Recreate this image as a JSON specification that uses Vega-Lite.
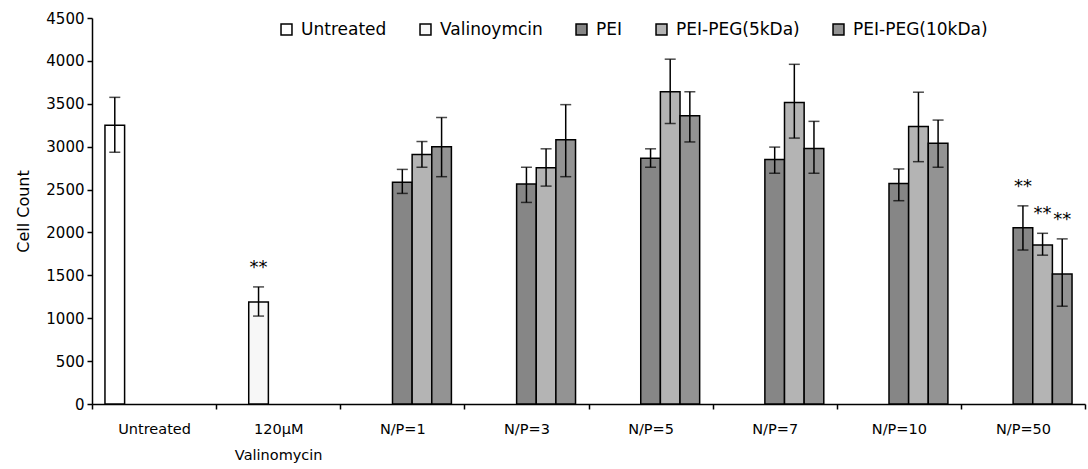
{
  "$schema": "https://vega.github.io/schema/vega-lite/v6.json",
  "autosize": "none",
  "width": 993,
  "height": 386,
  "padding": {"left": 92, "top": 18, "right": 3, "bottom": 65},
  "background": "white",
  "config": {
    "view": {"stroke": null},
    "font": "DejaVu Sans",
    "axis": {"labelFont": "DejaVu Sans", "titleFont": "DejaVu Sans", "labelColor": "#000", "titleColor": "#000", "domainColor": "#000", "tickColor": "#000", "domainWidth": 1.5, "tickWidth": 1.5, "grid": false},
    "legend": {"labelFont": "DejaVu Sans", "labelColor": "#000"}
  },
  "data": {
    "values": [
      {"group": "Untreated", "series": "Untreated", "mean": 3250, "lo": 2935, "hi": 3575},
      {"group": "120µM Valinomycin", "series": "Valinoymcin", "mean": 1190, "lo": 1025, "hi": 1365, "sig": "**"},
      {"group": "N/P=1", "series": "PEI", "mean": 2585, "lo": 2455, "hi": 2735},
      {"group": "N/P=1", "series": "PEI-PEG(5kDa)", "mean": 2910, "lo": 2760, "hi": 3060},
      {"group": "N/P=1", "series": "PEI-PEG(10kDa)", "mean": 3000, "lo": 2650, "hi": 3340},
      {"group": "N/P=3", "series": "PEI", "mean": 2565, "lo": 2350, "hi": 2760},
      {"group": "N/P=3", "series": "PEI-PEG(5kDa)", "mean": 2755, "lo": 2540, "hi": 2975},
      {"group": "N/P=3", "series": "PEI-PEG(10kDa)", "mean": 3080, "lo": 2650, "hi": 3490},
      {"group": "N/P=5", "series": "PEI", "mean": 2865, "lo": 2760, "hi": 2975},
      {"group": "N/P=5", "series": "PEI-PEG(5kDa)", "mean": 3640, "lo": 3270, "hi": 4020},
      {"group": "N/P=5", "series": "PEI-PEG(10kDa)", "mean": 3360, "lo": 3055, "hi": 3640},
      {"group": "N/P=7", "series": "PEI", "mean": 2850, "lo": 2690, "hi": 2995},
      {"group": "N/P=7", "series": "PEI-PEG(5kDa)", "mean": 3515, "lo": 3100, "hi": 3960},
      {"group": "N/P=7", "series": "PEI-PEG(10kDa)", "mean": 2980, "lo": 2690, "hi": 3295},
      {"group": "N/P=10", "series": "PEI", "mean": 2570, "lo": 2370, "hi": 2740},
      {"group": "N/P=10", "series": "PEI-PEG(5kDa)", "mean": 3235, "lo": 2825, "hi": 3635},
      {"group": "N/P=10", "series": "PEI-PEG(10kDa)", "mean": 3040, "lo": 2760, "hi": 3310},
      {"group": "N/P=50", "series": "PEI", "mean": 2055, "lo": 1795, "hi": 2310, "sig": "**"},
      {"group": "N/P=50", "series": "PEI-PEG(5kDa)", "mean": 1855, "lo": 1735, "hi": 1990, "sig": "**"},
      {"group": "N/P=50", "series": "PEI-PEG(10kDa)", "mean": 1515, "lo": 1140, "hi": 1925, "sig": "**"}
    ]
  },
  "encoding": {
    "x": {
      "field": "group",
      "type": "nominal",
      "sort": null,
      "scale": {"paddingInner": 0, "paddingOuter": 0},
      "axis": {
        "title": null,
        "labelAngle": 0,
        "labelFontSize": 14.5,
        "labelExpr": "split(datum.label, ' ')",
        "labelLineHeight": 26,
        "labelPadding": 13,
        "tickSize": 5,
        "tickBand": "extent",
        "bandPosition": 0
      }
    },
    "xOffset": {
      "field": "series",
      "type": "nominal",
      "sort": ["Untreated", "Valinoymcin", "PEI", "PEI-PEG(5kDa)", "PEI-PEG(10kDa)"],
      "scale": {"domain": ["Untreated", "Valinoymcin", "PEI", "PEI-PEG(5kDa)", "PEI-PEG(10kDa)"], "paddingInner": 0, "paddingOuter": 0.66}
    }
  },
  "layer": [
    {
      "mark": {"type": "bar", "stroke": "#000", "strokeWidth": 1.5},
      "encoding": {
        "y": {
          "field": "mean",
          "type": "quantitative",
          "scale": {"domain": [0, 4500], "nice": false},
          "axis": {
            "title": "Cell Count",
            "titleFontSize": 16,
            "titleFontWeight": "normal",
            "titlePadding": 14,
            "labelFontSize": 15,
            "labelPadding": 3,
            "tickSize": 5,
            "format": "d",
            "values": [0, 500, 1000, 1500, 2000, 2500, 3000, 3500, 4000, 4500]
          }
        },
        "fill": {
          "field": "series",
          "type": "nominal",
          "scale": {
            "domain": ["Untreated", "Valinoymcin", "PEI", "PEI-PEG(5kDa)", "PEI-PEG(10kDa)"],
            "range": ["#ffffff", "#f7f7f7", "#868686", "#b4b4b4", "#939393"]
          },
          "legend": {
            "title": null,
            "orient": "none",
            "direction": "horizontal",
            "legendX": 186,
            "legendY": 3,
            "symbolType": "square",
            "symbolSize": 120,
            "symbolStrokeColor": "#000",
            "symbolStrokeWidth": 1.5,
            "labelFontSize": 17,
            "labelOffset": 6,
            "columnPadding": 30
          }
        }
      }
    },
    {
      "mark": {"type": "rule", "color": "#000", "strokeWidth": 1.5},
      "encoding": {
        "y": {"field": "lo", "type": "quantitative"},
        "y2": {"field": "hi"}
      }
    },
    {
      "mark": {"type": "tick", "color": "#000", "thickness": 1.5, "size": 11},
      "encoding": {"y": {"field": "hi", "type": "quantitative"}}
    },
    {
      "mark": {"type": "tick", "color": "#000", "thickness": 1.5, "size": 11},
      "encoding": {"y": {"field": "lo", "type": "quantitative"}}
    },
    {
      "transform": [{"filter": "datum.sig != null"}],
      "mark": {"type": "text", "color": "#000", "fontSize": 18, "baseline": "alphabetic", "dy": -14},
      "encoding": {
        "y": {"field": "hi", "type": "quantitative"},
        "text": {"field": "sig", "type": "nominal"}
      }
    }
  ]
}
